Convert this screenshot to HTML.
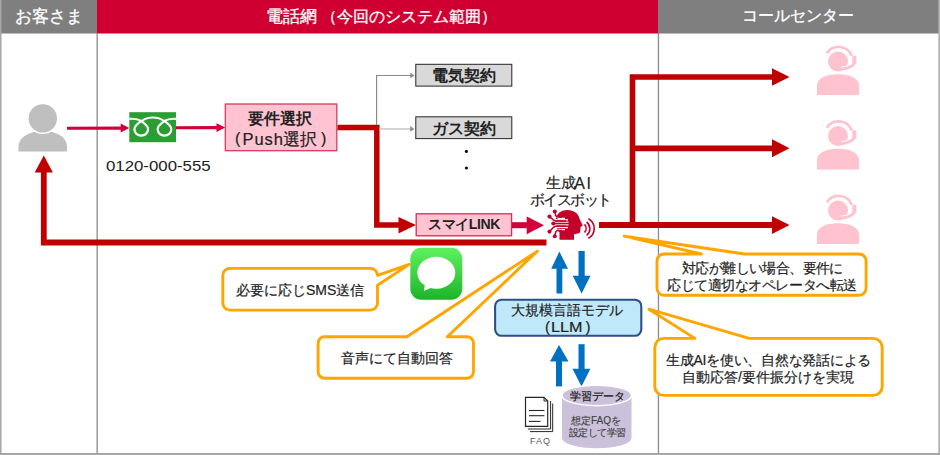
<!DOCTYPE html>
<html lang="ja">
<head>
<meta charset="utf-8">
<style>
html,body{margin:0;padding:0;background:#fff;}
body{width:940px;height:455px;position:relative;overflow:hidden;font-family:"Liberation Sans",sans-serif;color:#222;}
.t{position:absolute;white-space:nowrap;line-height:1;-webkit-text-stroke:0.2px #222;}
svg{position:absolute;left:0;top:0;}
</style>
</head>
<body>
<svg width="940" height="455" viewBox="0 0 940 455">
  <!-- header -->
  <rect x="0" y="0" width="97" height="33.5" fill="#7f7f7f"/>
  <rect x="97" y="0" width="561" height="33.5" fill="#cf0031"/>
  <rect x="658" y="0" width="282" height="33.5" fill="#7f7f7f"/>
  <!-- borders -->
  <rect x="0" y="0" width="1.5" height="455" fill="#a6a6a6"/>
  <rect x="938.3" y="0" width="1.7" height="455" fill="#b3b3b3"/>
  <rect x="0" y="453" width="940" height="2" fill="#a6a6a6"/>
  <rect x="96.5" y="33" width="1.3" height="420" fill="#8c8c8c"/>
  <rect x="657.8" y="33" width="1.3" height="420" fill="#8c8c8c"/>

  <!-- customer icon -->
  <path d="M18.5,151.5 L18.5,147 C18.5,137 30,131 43,131 C56,131 67,137 67,147 L67,151.5 Z" fill="#bfbfbf"/>
  <circle cx="42.8" cy="118.4" r="15.6" fill="#fff"/>
  <circle cx="42.8" cy="118.4" r="14.2" fill="#bfbfbf"/>

  <!-- red thin arrows customer->freedial->box -->
  <line x1="67" y1="128.3" x2="122" y2="128.1" stroke="#d0003a" stroke-width="3.1"/>
  <polygon points="120.7,123.6 129.3,128.1 120.7,132.4" fill="#d0003a"/>
  <line x1="176" y1="127.8" x2="218" y2="127.6" stroke="#d0003a" stroke-width="3.1"/>
  <polygon points="216.5,123.2 225.2,127.6 216.5,132" fill="#d0003a"/>

  <!-- freedial -->
  <rect x="129.3" y="112.2" width="46.7" height="30" fill="#2a9d33"/>
  <path d="M129.3,118.8 C134.5,118.6 138.3,119 141.25,121.2 C145.5,124 148.1,126.2 148.1,129.3 C148.1,133 145,135.6 141.25,135.6 C137.5,135.6 134.4,133 134.4,129.3 C134.4,126.2 137,124 141.25,121.2 C144.3,119 148.3,117.5 152.85,117.5 C157.4,117.5 161.4,119 164.45,121.2 C168.7,124 171.3,126.2 171.3,129.3 C171.3,133 168.2,135.6 164.45,135.6 C160.7,135.6 157.6,133 157.6,129.3 C157.6,126.2 160.2,124 164.45,121.2 C167.4,119 171.2,118.6 176,118.8" fill="none" stroke="#fff" stroke-width="2.2"/>

  <!-- pink box -->
  <rect x="225.3" y="104" width="111.5" height="46.7" fill="#ffc3d2" stroke="#d83a60" stroke-width="1.3"/>

  <!-- thick red line from box -->
  <polyline points="337.5,127.6 376.8,127.6 376.8,225 400,225" fill="none" stroke="#c00000" stroke-width="5.5"/>
  <polygon points="398.5,217 416,225 398.5,233.4" fill="#c00000"/>

  <!-- gray thin branches -->
  <polyline points="379.5,128.9 411,128.9" fill="none" stroke="#d0d0d0" stroke-width="1.8"/>
  <polyline points="376.6,125 376.6,75.5 411,75.5" fill="none" stroke="#8c8c8c" stroke-width="1.2"/>
  <polygon points="410.2,72.8 414.6,75.5 410.2,78.2" fill="#8c8c8c"/>
  <polygon points="410.2,126.1 414.4,128.9 410.2,131.7" fill="#8c8c8c"/>
  <circle cx="466.4" cy="151.4" r="1.6" fill="#111"/>
  <circle cx="466.4" cy="168" r="1.6" fill="#111"/>
  <!-- contract boxes -->
  <rect x="415.8" y="64.3" width="96" height="21.8" fill="#d9d9d9" stroke="#262626" stroke-width="1"/>
  <rect x="415.8" y="116.8" width="96" height="21.8" fill="#d9d9d9" stroke="#262626" stroke-width="1"/>
  <rect x="416.2" y="213.8" width="95.4" height="22" fill="#ffc3d2" stroke="#d42c55" stroke-width="1.3"/>

  <!-- pink arrow smai -> AI -->
  <line x1="512" y1="225.2" x2="528" y2="225.2" stroke="#d0003a" stroke-width="6"/>
  <polygon points="526.7,216.5 544,225.3 526.7,234.3" fill="#d0003a"/>

  <!-- return red line -->
  <polyline points="546.5,242.5 43.8,242.5 43.8,170" fill="none" stroke="#c00000" stroke-width="5.8"/>
  <polygon points="34.7,172.6 43.8,155.5 52.9,172.6" fill="#c00000"/>

  <!-- AI -> operators -->
  <polyline points="599,225 775,225" fill="none" stroke="#c00000" stroke-width="5.8"/>
  <polyline points="775,77 632.5,77 632.5,225" fill="none" stroke="#c00000" stroke-width="5.6"/>
  <polyline points="632.5,148.3 775,148.3" fill="none" stroke="#c00000" stroke-width="5.8"/>
  <polygon points="772,68.2 789.5,77 772,85.8" fill="#c00000"/>
  <polygon points="772,139.3 789.5,148.3 772,157.3" fill="#c00000"/>
  <polygon points="772,216.2 789.5,225.1 772,234" fill="#c00000"/>

  <!-- operators -->
  <g id="op">
    <path d="M817,95 L817,85.5 C817,78 827,74.2 838,74.2 C849,74.2 859,78 859,85.5 L859,95 Z" fill="#ffc2cf"/>
    <circle cx="838" cy="61.5" r="10" fill="#ffc2cf"/>
    <path d="M826.8,53.2 A14.2,14.2 0 0 1 851.8,56" fill="none" stroke="#ffc2cf" stroke-width="2.6"/>
    <path d="M854,63.5 Q851.5,68 841.5,69" fill="none" stroke="#fff" stroke-width="5"/>
    <rect x="852.3" y="55.8" width="4" height="8.4" rx="1" fill="#ffc2cf"/>
    <path d="M854,63.5 Q851.5,68 841.8,69" fill="none" stroke="#ffc2cf" stroke-width="2.8" stroke-linecap="round"/>
  </g>
  <use href="#op" x="0" y="74.5"/>
  <use href="#op" x="0" y="149"/>

  <!-- AI head icon -->
  <path d="M559.5,239.7 L559.5,232.4 C556.5,229.5 555.5,226 555.5,221.5 C555.5,214.5 560.5,210.1 567.5,210.1 C574,210.1 578.5,213.5 579.8,219.5 L582.8,225.6 L580.6,227 L580.3,231.2 C580,233 578.5,233.6 576.5,233.8 L574,234.2 L574,239.7 Z" fill="#c20029"/>
  <g stroke="#fff" stroke-width="1.3" fill="none">
    <path d="M552,215 C556,215 557.5,217 558.5,218.3 L565,218.3"/>
    <path d="M552,219.8 L568,219.8"/>
    <path d="M552,222.3 L568.5,222.3"/>
    <path d="M552,224.8 L568.5,224.8"/>
    <path d="M552,227.6 L568,227.6"/>
    <path d="M552,233 C556,233 557.5,231 558.5,229.6 L565,229.6"/>
  </g>
  <g stroke="#fff" stroke-width="2.6" fill="none">
    <path d="M551,212 L557,213.5"/>
    <path d="M551,236 L557,234.5"/>
  </g>
  <g stroke="#c20029" stroke-width="1.5" fill="none">
    <path d="M554.8,211.6 L555.8,215.8 C556.2,216.8 557,217.1 558,217.1 L562,217.1"/>
    <path d="M549.5,216.6 L553.8,220.3 C554.3,220.8 555,221 556,221 L566,221"/>
    <path d="M553.3,223.5 L568,223.5"/>
    <path d="M549.5,231.6 L553.8,227.1 C554.3,226.6 555,226.2 556,226.2 L566,226.2"/>
    <path d="M554.8,236.2 L555.8,231.8 C556.2,230.8 557,230.5 558,230.5 L562,230.5"/>
  </g>
  <g fill="#c20029">
    <circle cx="554.8" cy="211.6" r="2.05"/>
    <circle cx="549.5" cy="216.6" r="2.05"/>
    <circle cx="553.3" cy="223.5" r="2.05"/>
    <circle cx="549.5" cy="231.6" r="2.05"/>
    <circle cx="554.8" cy="236.2" r="2.05"/>
  </g>
  <g fill="none" stroke="#c20029" stroke-width="1.6">
    <path d="M584.5,224.4 A6,6 0 0 1 584.5,232.5"/>
    <path d="M586.6,222 A8.5,8.5 0 0 1 586.6,235.4"/>
    <path d="M588.4,218.8 A11,11 0 0 1 588.4,238.2"/>
  </g>

  <!-- messages icon -->
  <defs>
    <linearGradient id="mg" x1="0" y1="0" x2="0" y2="1">
      <stop offset="0" stop-color="#5ff25f"/>
      <stop offset="1" stop-color="#1db42a"/>
    </linearGradient>
  </defs>
  <rect x="410.3" y="247.7" width="52" height="52" rx="11" fill="url(#mg)"/>
  <ellipse cx="436.3" cy="272.8" rx="19" ry="16" fill="#fff"/>
  <path d="M425,284 L423.8,291 L433,287 Z" fill="#fff"/>

  <!-- callouts -->
  <g fill="#fff">
    <rect x="222.8" y="268.4" width="154.7" height="41.7" rx="7"/>
    <rect x="318.1" y="336.7" width="155.4" height="41.6" rx="6.5"/>
    <rect x="657" y="254" width="209.1" height="41.3" rx="7"/>
    <rect x="654.8" y="338.4" width="227.4" height="57" rx="9"/>
  </g>
  <g fill="none" stroke="#ffa500" stroke-width="2.9" stroke-linejoin="round">
    <path d="M229.8,268.4 L370.5,268.4 A7,7 0 0 1 377.5,275.4 L377.5,275.4 L409.2,264.4 L377.5,285.3 L377.5,303.1 A7,7 0 0 1 370.5,310.1 L229.8,310.1 A7,7 0 0 1 222.8,303.1 L222.8,275.4 A7,7 0 0 1 229.8,268.4 Z"/>
    <path d="M324.6,336.7 L406.9,336.7 L537.4,251.1 L447.3,336.7 L467.0,336.7 A6.5,6.5 0 0 1 473.5,343.2 L473.5,371.8 A6.5,6.5 0 0 1 467.0,378.3 L324.6,378.3 A6.5,6.5 0 0 1 318.1,371.8 L318.1,343.2 A6.5,6.5 0 0 1 324.6,336.7 Z"/>
    <path d="M664,254 L701.4,254 L624.2,236.2 L744.6,254 L859.1,254 A7,7 0 0 1 866.1,261 L866.1,288.3 A7,7 0 0 1 859.1,295.3 L664,295.3 A7,7 0 0 1 657,288.3 L657,261 A7,7 0 0 1 664,254 Z"/>
    <path d="M663.8,338.4 L694.9,338.4 L648.9,309.2 L749.2,338.4 L873.2,338.4 A9,9 0 0 1 882.2,347.4 L882.2,386.4 A9,9 0 0 1 873.2,395.4 L663.8,395.4 A9,9 0 0 1 654.8,386.4 L654.8,347.4 A9,9 0 0 1 663.8,338.4 Z"/>
  </g>

  <!-- blue arrows -->
  <g fill="#0070c0">
    <rect x="556.5" y="267" width="5.8" height="26.5"/>
    <polygon points="551.2,268.8 559.4,251.5 568,268.8"/>
    <rect x="578.5" y="251" width="6.2" height="26"/>
    <polygon points="572.7,275.8 581.6,293.5 590.5,275.8"/>
    <rect x="556" y="360" width="6" height="26.4"/>
    <polygon points="550,361.4 559,345 568.5,361.4"/>
    <rect x="578.5" y="344.2" width="6.1" height="26"/>
    <polygon points="572.5,368.7 581.5,386.4 590.4,368.7"/>
  </g>

  <!-- LLM box -->
  <rect x="495.1" y="299.7" width="146.2" height="36.1" rx="6.5" fill="#bfe9fa" stroke="#2b4f86" stroke-width="2.1"/>

  <!-- database -->
  <path d="M562,395.5 L562,438 A34.75,10.25 0 0 0 631.5,438 L631.5,395.5 Z" fill="#ccc1da"/>
  <ellipse cx="596.75" cy="395.4" rx="34.75" ry="10.25" fill="#ccc1da" stroke="#fff" stroke-width="1.5"/>

  <!-- FAQ doc -->
  <g fill="none" stroke="#262626" stroke-width="1">
    <path d="M528,429 L550.6,429 L550.6,401"/>
    <path d="M530,431.6 L552.7,431.6 L552.7,403.5"/>
  </g>
  <path d="M525.5,397.3 L544,397.3 L547.7,401 L547.7,426.3 L525.5,426.3 Z" fill="#fff" stroke="#262626" stroke-width="1.2"/>
  <path d="M544,397.3 L544,401 L547.7,401" fill="none" stroke="#262626" stroke-width="1"/>
  <g stroke="#262626" stroke-width="1.1">
    <line x1="529" y1="410.5" x2="544.4" y2="410.5"/>
    <line x1="529" y1="415.7" x2="544.4" y2="415.7"/>
    <line x1="529" y1="421.4" x2="540.5" y2="421.4"/>
  </g>
</svg>

<!-- texts -->
<div class="t" style="left:15px;top:8px;font-size:16.5px;color:#fff;-webkit-text-stroke:0.3px #fff;">お客さま</div>
<div class="t" style="left:265.5px;top:8px;font-size:16.5px;color:#fff;-webkit-text-stroke:0.3px #fff;">電話網</div><div class="t" style="left:321px;top:8px;font-size:16.3px;color:#fff;-webkit-text-stroke:0.3px #fff;">（今回のシステム範囲）</div>
<div class="t" style="left:741.5px;top:8px;font-size:16px;color:#fff;-webkit-text-stroke:0.3px #fff;">コールセンター</div>

<div class="t" style="left:106px;top:159px;font-size:14px;letter-spacing:0px;-webkit-text-stroke:0;transform:scaleX(1.2);transform-origin:0 0;">0120-000-555</div>

<div class="t" style="left:248px;top:111px;font-size:16px;font-weight:bold;-webkit-text-stroke:0;">要件選択</div>
<div class="t" style="left:235px;top:131px;font-size:16px;">(</div><div class="t" style="left:242.5px;top:131px;font-size:16.5px;letter-spacing:0.9px;">Push</div><div class="t" style="left:283px;top:130.5px;font-size:17px;">選択</div><div class="t" style="left:321px;top:131px;font-size:16px;">)</div>

<div class="t" style="left:431.5px;top:68px;font-size:15.5px;font-weight:bold;-webkit-text-stroke:0;">電気契約</div>
<div class="t" style="left:431.5px;top:120.5px;font-size:15.5px;font-weight:bold;-webkit-text-stroke:0;">ガス契約</div>
<div class="t" style="left:428px;top:217px;font-size:14px;letter-spacing:-0.4px;font-weight:bold;-webkit-text-stroke:0;">スマイLINK</div>

<div class="t" style="left:546px;top:175.5px;font-size:14.5px;">生成</div><div class="t" style="left:574.3px;top:175.5px;font-size:16px;letter-spacing:1.6px;">AI</div>
<div class="t" style="left:530px;top:192px;font-size:15px;letter-spacing:-1.6px;">ボイスボット</div>

<div class="t" style="left:236px;top:283px;font-size:14px;">必要に応じSMS送信</div>
<div class="t" style="left:341px;top:351px;font-size:14px;">音声にて自動回答</div>

<div class="t" style="left:511px;top:303px;font-size:14px;">大規模言語モデル</div>
<div class="t" style="left:545px;top:319px;font-size:15px;">(</div><div class="t" style="left:551px;top:319px;font-size:15px;transform:scaleX(1.08);transform-origin:0 0;">LLM</div><div class="t" style="left:585.5px;top:319px;font-size:15px;">)</div>

<div class="t" style="left:682px;top:261px;font-size:14px;letter-spacing:-0.6px;">対応が難しい場合、要件に</div>
<div class="t" style="left:667px;top:278px;font-size:14px;letter-spacing:-0.45px;">応じて適切なオペレータへ転送</div>

<div class="t" style="left:666px;top:353px;font-size:14px;letter-spacing:-0.25px;">生成AIを使い、自然な発話による</div>
<div class="t" style="left:682px;top:370px;font-size:14px;">自動応答/要件振分けを実現</div>

<div class="t" style="left:570px;top:391px;font-size:11px;-webkit-text-stroke:0.25px #222;">学習データ</div>
<div class="t" style="left:571px;top:416px;font-size:10px;color:#404040;-webkit-text-stroke:0.15px #404040;">想定FAQを</div>
<div class="t" style="left:569px;top:428px;font-size:9.5px;letter-spacing:-0.6px;color:#404040;-webkit-text-stroke:0.15px #404040;">設定して学習</div>
<div class="t" style="left:530px;top:437px;font-size:9px;color:#595959;letter-spacing:1px;-webkit-text-stroke:0;">FAQ</div>
</body>
</html>
